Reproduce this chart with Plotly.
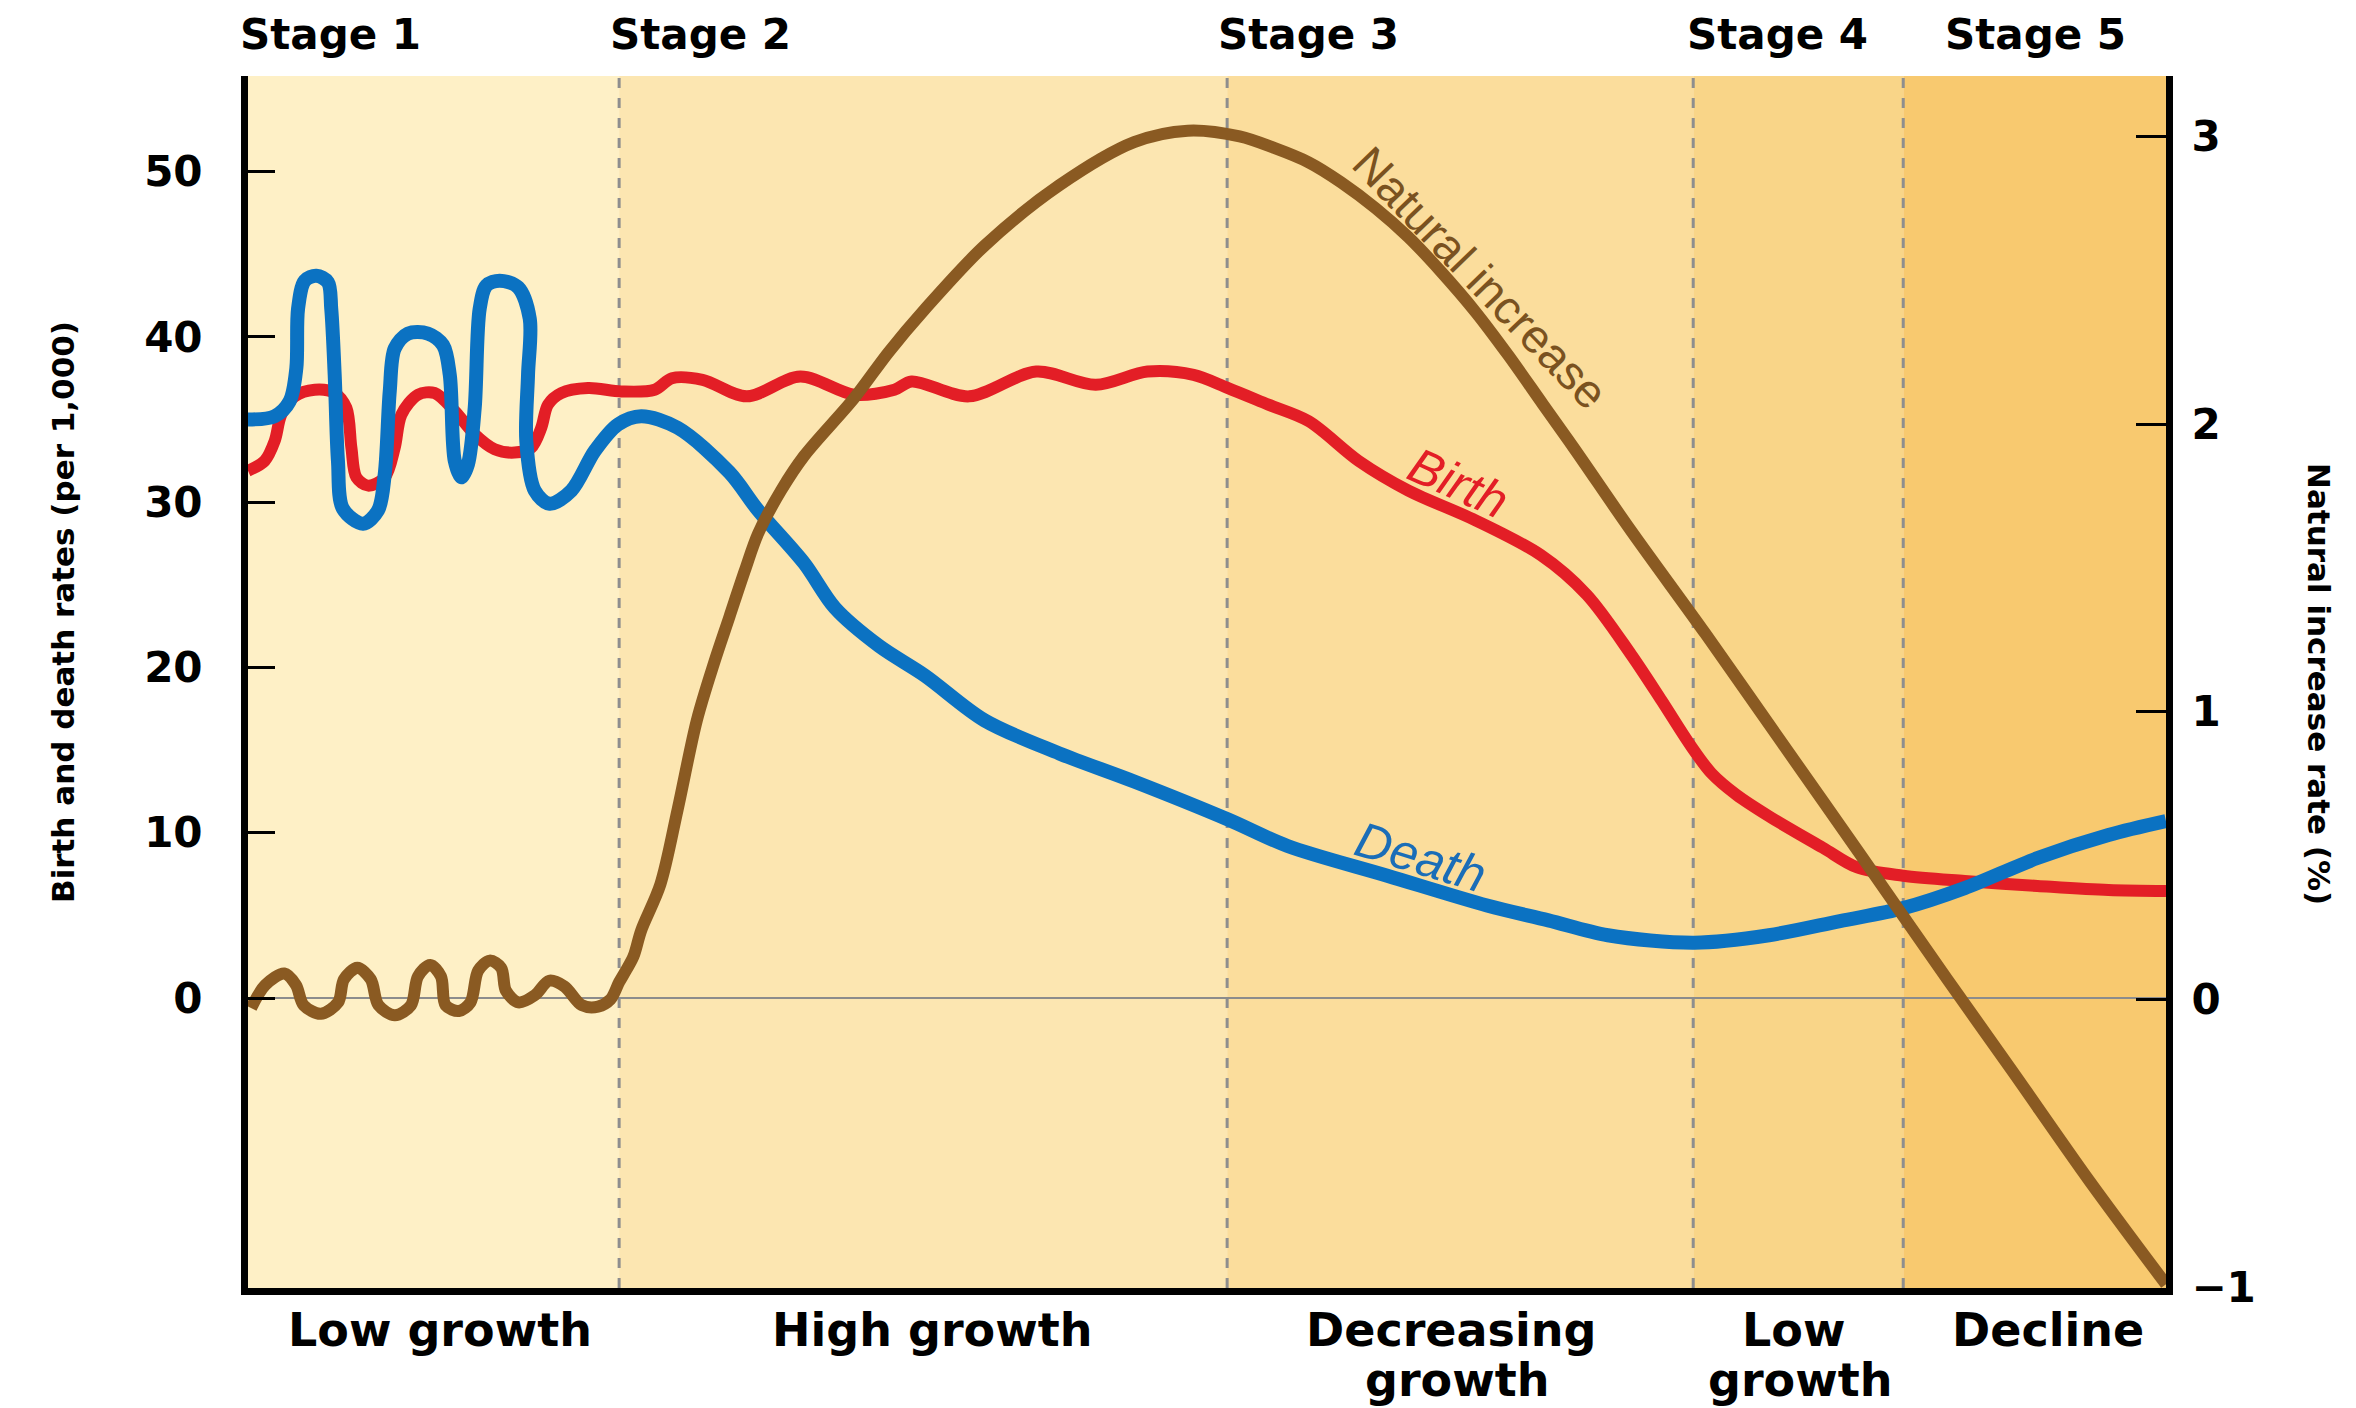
import plotly.graph_objects as go

# ---------------- data ----------------
birth_x = [0, 0.87, 1.39, 1.74, 2.43, 3.48, 4.52, 5.13, 5.39, 5.65, 6.26, 7.13, 7.65, 8.0, 8.86, 9.73,
           10.78, 11.82, 12.86, 13.9, 14.77, 15.29, 15.64, 16.33, 17.73, 19.46, 21.2, 22.1, 23.7, 26.0,
           28.8, 31.6, 33.7, 34.6, 37.6, 41.1, 44.2, 46.9, 49.3, 51.1, 53.2, 55.3, 57.9, 60.5, 64.0,
           67.4, 69.8, 72.1, 73.7, 75.2, 76.3, 77.6, 79.3, 82.1, 83.9, 86.3, 89.5, 93.3, 97.0, 100]
birth_y = [31.9, 32.5, 33.7, 35.3, 36.4, 36.8, 36.6, 35.7, 33.3, 31.5, 31.0, 31.5, 33.3, 35.3, 36.5, 36.6,
           35.5, 34.1, 33.2, 33.0, 33.3, 34.5, 35.9, 36.6, 36.9, 36.7, 36.8, 37.5, 37.4, 36.4,
           37.6, 36.5, 36.8, 37.3, 36.4, 37.9, 37.1, 37.9, 37.7, 36.9, 35.9, 34.9, 32.5, 30.7, 28.9,
           26.8, 24.4, 20.8, 18.0, 15.3, 13.6, 12.3, 11.0, 9.1, 7.9, 7.4, 7.08, 6.78, 6.53, 6.47]

death_x = [0, 1.39, 2.17, 2.52, 2.61, 2.96, 3.56, 4.17, 4.34, 4.52, 4.69, 4.95, 6.0, 6.78, 7.13, 7.39,
           7.65, 8.34, 9.38, 10.17, 10.52, 10.78, 11.12, 11.47, 11.82, 12.08, 12.43, 13.12, 14.08, 14.69,
           14.6, 14.51, 14.95, 15.73, 16.86, 18.08, 19.29, 20.5, 22.4, 25.1, 26.6, 29.0, 30.6, 32.9,
           35.3, 38.4, 42.3, 46.2, 51.1, 54.2, 59.4, 64.6, 67.8, 70.9, 75.4, 79.3, 83.0, 86.3, 89.5,
           93.3, 97.0, 100]
death_y = [35.0, 35.2, 36.1, 38.1, 41.7, 43.4, 43.7, 43.3, 41.7, 37.7, 32.5, 29.6, 28.7, 29.5, 31.7, 36.7,
           39.3, 40.2, 40.2, 39.5, 37.7, 32.5, 31.5, 32.3, 35.7, 41.7, 43.1, 43.4, 43.0, 41.1,
           37.7, 33.7, 30.7, 29.9, 30.7, 33.1, 34.7, 35.2, 34.5, 31.8, 29.5, 26.3, 23.6, 21.3,
           19.5, 16.8, 14.8, 13.1, 10.8, 9.2, 7.4, 5.6, 4.7, 3.8, 3.35, 3.8, 4.66, 5.44, 6.65,
           8.47, 9.86, 10.7]

natinc_x = [0.16, 0.9, 1.9, 2.5, 2.9, 3.8, 4.7, 5.0, 5.7, 6.4, 6.8, 7.66, 8.5, 8.86, 9.5, 10.06, 10.3,
            11.0, 11.6, 12.0, 12.6, 13.2, 13.45, 14.1, 14.96, 15.7, 16.5, 17.4, 18.25, 18.9, 19.35,
            19.7, 20.1, 20.5, 21.5, 22.4, 23.4, 24.3, 25.1, 25.9, 26.6, 27.8, 29.0, 31.6, 33.4, 35.3,
            38.4, 42.3, 46.2, 49.0, 51.7, 53.5, 55.3, 57.0, 58.8, 60.5, 62.2, 64.0, 65.7, 67.5, 69.2,
            72.1, 76.0, 80.0, 84.0, 88.6, 92.0, 96.0, 100]
natinc_y = [-0.03, 0.05, 0.09, 0.05, -0.02, -0.05, -0.01, 0.07, 0.11, 0.07, -0.02, -0.055, -0.02, 0.08,
            0.12, 0.08, -0.02, -0.04, -0.01, 0.1, 0.135, 0.11, 0.03, -0.01, 0.015, 0.065, 0.045, -0.02,
            -0.025, 0.0, 0.06,
            0.10, 0.15, 0.24, 0.40, 0.66, 0.97, 1.17, 1.33, 1.49, 1.62, 1.77, 1.89, 2.09, 2.25, 2.40,
            2.62, 2.83, 2.98, 3.02, 3.00, 2.96, 2.91, 2.84, 2.75, 2.65, 2.53, 2.39, 2.24, 2.07, 1.91,
            1.63, 1.27, 0.89, 0.51, 0.07, -0.25, -0.63, -0.99]

stage_bounds = [0, 19.35, 51.05, 75.35, 86.3, 100]
stage_names = ["Stage 1", "Stage 2", "Stage 3", "Stage 4", "Stage 5"]
phase_names = [["Low growth"], ["High growth"], ["Decreasing", "growth"], ["Low", "growth"], ["Decline"]]
left_ticks = [0, 10, 20, 30, 40, 50]
right_ticks = [-1, 0, 1, 2, 3]
left_title = "Birth and death rates (per 1,000)"
right_title = "Natural increase rate (%)"
curve_labels = ["Natural increase", "Birth", "Death"]

# ---------------- style / layout ----------------
W, H = 2356, 1408
ML, MR, MT, MB = 240, 198, 68, 128
PW, PH = W - ML - MR, H - MT - MB


def px_x(X):
    return (X - ML) / PW


def px_y(Y):
    return (H - MB - Y) / PH


band_colors = ["#FEF0C6", "#FCE6B1", "#FBDD9C", "#F9D588", "#F8C96F"]
RED, BLUE, BROWN = "#E31E26", "#0B72C2", "#8A5A22"
TICKFONT = dict(family="DejaVu Sans", size=42, color="black", weight=700)
TITLEFONT = dict(family="DejaVu Sans", size=31, color="black", weight=700)

fig = go.Figure()
fig.add_trace(go.Scatter(x=birth_x, y=birth_y, mode="lines", name="Birth",
                         line=dict(color=RED, width=12, shape="spline", smoothing=0.9),
                         hoverinfo="skip", showlegend=False))
fig.add_trace(go.Scatter(x=death_x, y=death_y, mode="lines", name="Death",
                         line=dict(color=BLUE, width=14, shape="spline", smoothing=0.9),
                         hoverinfo="skip", showlegend=False))
fig.add_trace(go.Scatter(x=natinc_x, y=natinc_y, mode="lines", name="Natural increase", yaxis="y2",
                         line=dict(color=BROWN, width=12, shape="spline", smoothing=0.9),
                         hoverinfo="skip", showlegend=False))

shapes = []
for i in range(5):
    shapes.append(dict(type="rect", xref="x", yref="paper", x0=stage_bounds[i], x1=stage_bounds[i + 1],
                       y0=0, y1=1, fillcolor=band_colors[i], line=dict(width=0), layer="below"))
for b in stage_bounds[1:-1]:
    shapes.append(dict(type="line", xref="x", yref="paper", x0=b, x1=b, y0=0, y1=1,
                       line=dict(color="#8E8E8E", width=3, dash="10px,10px"), layer="below"))

annotations = []
stage_x_px = [230, 600, 1208, 1677, 1935]
for name, X in zip(stage_names, stage_x_px):
    annotations.append(dict(text=name, xref="paper", yref="paper", x=px_x(X), y=px_y(27),
                            xanchor="left", yanchor="middle", showarrow=False,
                            font=dict(family="DejaVu Sans", size=42, color="black", weight=700)))
phase_x_px = [[432], [924], [1443, 1449], [1785, 1792], [2040]]
line_y_px = [1322, 1372]
for lines, xs in zip(phase_names, phase_x_px):
    for j, (t, X) in enumerate(zip(lines, xs)):
        annotations.append(dict(text=t, xref="paper", yref="paper", x=px_x(X), y=px_y(line_y_px[j]),
                                xanchor="center", yanchor="middle", showarrow=False,
                                font=dict(family="DejaVu Sans", size=46, color="black", weight=700)))
annotations.append(dict(text=left_title, xref="paper", yref="paper", x=px_x(55), y=px_y(604),
                        textangle=-90, showarrow=False, xanchor="center", yanchor="middle",
                        font=TITLEFONT))
annotations.append(dict(text=right_title, xref="paper", yref="paper", x=px_x(2311), y=px_y(676),
                        textangle=90, showarrow=False, xanchor="center", yanchor="middle",
                        font=TITLEFONT))
# curve labels
annotations.append(dict(text=curve_labels[0], xref="paper", yref="paper", x=px_x(1472), y=px_y(270),
                        textangle=46, showarrow=False, xanchor="center", yanchor="middle",
                        font=dict(family="Liberation Sans", size=47, color="#7A5220")))
annotations.append(dict(text=curve_labels[1], xref="paper", yref="paper", x=px_x(1450), y=px_y(475),
                        textangle=24, showarrow=False, xanchor="center", yanchor="middle",
                        font=dict(family="Liberation Sans", size=50, color=RED, style="italic")))
annotations.append(dict(text=curve_labels[2], xref="paper", yref="paper", x=px_x(1412), y=px_y(849),
                        textangle=17, showarrow=False, xanchor="center", yanchor="middle",
                        font=dict(family="Liberation Sans", size=50, color="#1A6DB8", style="italic")))

fig.update_layout(
    width=W, height=H,
    margin=dict(l=ML, r=MR, t=MT, b=MB, pad=0),
    paper_bgcolor="white", plot_bgcolor="white",
    shapes=shapes, annotations=annotations, showlegend=False,
    xaxis=dict(range=[0, 100], showgrid=False, zeroline=False, showticklabels=False, ticks="",
               showline=True, linecolor="black", linewidth=7, fixedrange=True),
    yaxis=dict(range=[-17.54, 55.78], tickvals=left_ticks, ticks="inside", ticklen=27, tickwidth=3,
               tickcolor="black", showline=True, linecolor="black", linewidth=7, showgrid=False,
               zeroline=True, zerolinecolor="#8C8C8C", zerolinewidth=1.5,
               tickfont=TICKFONT, ticklabelstandoff=30),
    yaxis2=dict(range=[-1.003, 3.21], overlaying="y", side="right", tickvals=right_ticks,
                ticks="inside", ticklen=30, tickwidth=3, tickcolor="black", showline=True,
                linecolor="black", linewidth=7, showgrid=False, zeroline=False,
                tickfont=TICKFONT, ticklabelstandoff=10),
)

fig.write_html("out.html")
